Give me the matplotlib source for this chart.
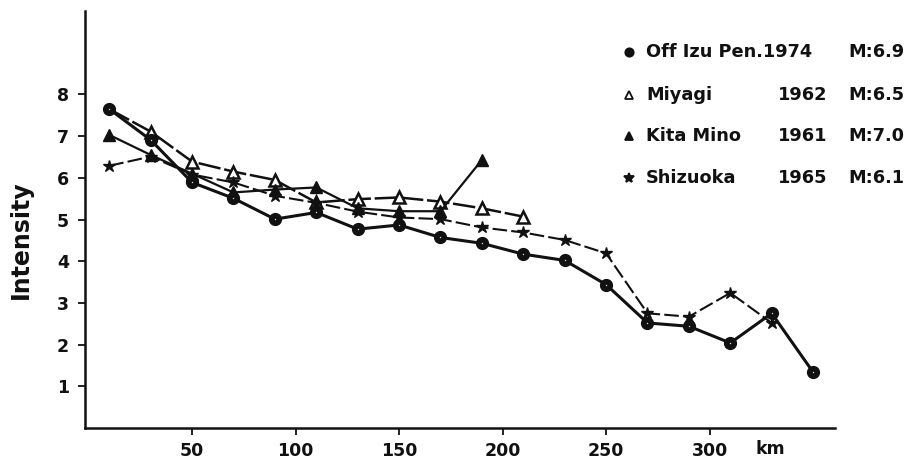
#!/usr/bin/env python3
"""Seismic intensity versus epicentral distance for four Japanese earthquakes."""

import matplotlib

matplotlib.use("Agg")

import matplotlib.pyplot as plt

# distance from the epicentre, km (points every 20 km)
DIST_KM = [10, 30, 50, 70, 90, 110, 130, 150, 170, 190, 210, 230, 250, 270, 290, 310, 330, 350]

OFF_IZU = [7.65, 6.91, 5.89, 5.51, 5.01, 5.17, 4.77, 4.87, 4.57, 4.43, 4.17, 4.02, 3.44, 2.52, 2.44, 2.04, 2.75, 1.34]
MIYAGI_KM = DIST_KM[:11]
MIYAGI = [7.65, 7.11, 6.39, 6.15, 5.95, 5.41, 5.49, 5.53, 5.43, 5.27, 5.07]
KITA_MINO_KM = DIST_KM[:10]
KITA_MINO = [7.03, 6.55, 6.10, 5.65, 5.72, 5.77, 5.27, 5.20, 5.20, 6.43]
SHIZUOKA_KM = DIST_KM[:17]
SHIZUOKA = [6.29, 6.51, 6.08, 5.89, 5.57, 5.40, 5.19, 5.05, 5.01, 4.81, 4.69, 4.51, 4.19, 2.75, 2.67, 3.24, 2.52]

X_TICKS = [50, 100, 150, 200, 250, 300]
Y_TICKS = [1, 2, 3, 4, 5, 6, 7, 8]

LEGEND_NAMES = ["Off Izu Pen.1974", "Miyagi", "Kita Mino", "Shizuoka"]
LEGEND_YEARS = ["", "1962", "1961", "1965"]
LEGEND_MAGS = ["M:6.9", "M:6.5", "M:7.0", "M:6.1"]

INK = "#111111"
FONT = "DejaVu Sans"

plt.rcParams.update({"font.family": FONT, "font.weight": "bold"})

fig = plt.figure(figsize=(9.23, 4.63), dpi=100)
ax = fig.add_axes([0.0926, 0.0756, 0.8121, 0.9004])

# Miyagi: open triangles, long dashes (first point sits under the Off Izu circle)
ax.plot(MIYAGI_KM, MIYAGI, color=INK, lw=1.8, dashes=(9, 1.5), marker="^", ms=9,
        mfc="white", mec=INK, mew=1.8, markevery=list(range(1, len(MIYAGI))), zorder=3)
# Kita Mino: filled triangles, solid
ax.plot(KITA_MINO_KM, KITA_MINO, color=INK, lw=1.6, marker="^", ms=8.5,
        mfc=INK, mec=INK, zorder=3)
# Shizuoka: stars, short dashes
ax.plot(SHIZUOKA_KM, SHIZUOKA, color=INK, lw=1.5, dashes=(7, 2), marker="*", ms=9,
        mfc=INK, mec=INK, zorder=4)
# Off Izu Peninsula: filled circles, thick solid line
ax.plot(DIST_KM, OFF_IZU, color=INK, lw=2.2, marker="o", ms=8.5,
        mfc=INK, mec=INK, zorder=5)
ax.plot(DIST_KM, OFF_IZU, ls="none", marker="o", ms=1.0, mfc="#dddddd", mec="none", zorder=6)

ax.set_xlim(-1.5, 360.6)
ax.set_ylim(0, 10)
ax.set_xticks(X_TICKS)
ax.set_yticks(Y_TICKS)
ax.set_xticklabels([str(t) for t in X_TICKS])
ax.set_yticklabels([str(t) for t in Y_TICKS])
ax.tick_params(axis="both", direction="out", length=5, width=1.3, colors=INK,
               labelsize=12.5, pad=5)
ax.tick_params(axis="y", pad=7)
for lab in ax.get_xticklabels() + ax.get_yticklabels():
    lab.set_fontweight("bold")

for side in ("top", "right"):
    ax.spines[side].set_visible(False)
for side in ("left", "bottom"):
    ax.spines[side].set_linewidth(1.8)
    ax.spines[side].set_color(INK)

ax.text(322, -0.29, "km", ha="left", va="top", fontsize=12.5, fontweight="bold",
        color=INK, clip_on=False)

fig.text(21 / 923, 1 - 240 / 463, "Intensity", rotation=90, ha="center", va="center",
         fontsize=17, fontweight="bold", color=INK)

# hand-set legend on the right
legend_rows_y = [52, 95, 136, 178]
legend_markers = [("o", INK), ("^", "white"), ("^", INK), ("*", INK)]
for row_y, name, year, mag, (mk, face) in zip(legend_rows_y, LEGEND_NAMES, LEGEND_YEARS,
                                                LEGEND_MAGS, legend_markers):
    fy = 1 - row_y / 463
    ax.plot([629 / 923], [fy], transform=fig.transFigure, clip_on=False, ls="none",
            marker=mk, ms=6 if mk != "*" else 7, mfc=face, mec=INK, mew=1.3)
    fig.text(646 / 923, fy, name, ha="left", va="center", fontsize=12.8,
             fontweight="bold", color=INK)
    if year:
        fig.text(778 / 923, fy, year, ha="left", va="center", fontsize=12.8,
                 fontweight="bold", color=INK)
    fig.text(848 / 923, fy, mag, ha="left", va="center", fontsize=12.8,
             fontweight="bold", color=INK)

fig.savefig("out.png", dpi=100, facecolor="white")
